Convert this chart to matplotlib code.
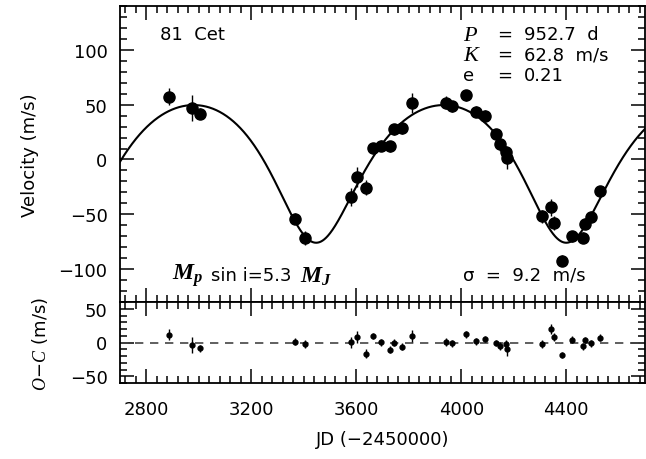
import numpy as np
import matplotlib
matplotlib.use("Agg")
import matplotlib.pyplot as plt
from matplotlib.ticker import MultipleLocator

plt.rcParams['font.family'] = ['DejaVu Sans']
plt.rcParams['mathtext.fontset'] = 'custom'
plt.rcParams['mathtext.rm'] = 'DejaVu Sans'
plt.rcParams['mathtext.it'] = 'Liberation Serif:italic'
plt.rcParams['mathtext.bf'] = 'Liberation Serif:italic:bold'

# ---- data ----
jd = [2887, 2976, 3004, 3365, 3405, 3580, 3601, 3637, 3662, 3694, 3728, 3745,
      3776, 3814, 3941, 3966, 4019, 4055, 4090, 4131, 4147, 4172, 4175, 4308,
      4341, 4352, 4382, 4420, 4463, 4470, 4496, 4530]
velocity = [57.3, 47.2, 41.8, -53.9, -71.6, -34.1, -15.8, -25.6, 10.3, 12.5, 12.2, 27.7,
            28.3, 51.2, 51.8, 48.7, 58.8, 43.6, 39.9, 23.1, 14.0, 6.4, 1.6, -51.8,
            -43.6, -57.9, -92.3, -70.1, -71.6, -58.8, -52.4, -29.0]
residual = [11.6, -3.2, -8.6, 1.2, -2.7, 0.3, 8.6, -16.6, 9.6, 0.3, -10.6, 0.0,
            -6.2, 10.1, 1.2, -1.3, 12.1, 1.7, 5.2, -0.7, -4.6, -2.6, -9.6, -2.2,
            20.0, 8.6, -18.5, 4.2, -5.6, 3.7, -1.2, 7.2]
error = [8, 12, 5, 5, 6, 8, 9, 7, 5, 5, 5, 5,
         5, 9, 6, 5, 5, 5, 5, 5, 6, 6, 10, 6,
         8, 6, 5, 5, 5, 5, 5, 5]

# orbital solution (P, K, e given in the chart)
P_orb = 952.7
K_orb = 62.8
e_orb = 0.21
omega_deg = 175.7
T_peri = 3440.0
gamma = 0.0

xticks = [2800, 3200, 3600, 4000, 4400]
yticks_top = [-100, -50, 0, 50, 100]
yticks_bot = [-50, 0, 50]

# ---- model curve ----
t = np.linspace(2700, 4700, 2000)
M = 2 * np.pi * (t - T_peri) / P_orb
E = M.copy()
for _ in range(50):
    E = E - (E - e_orb * np.sin(E) - M) / (1 - e_orb * np.cos(E))
nu = 2 * np.arctan2(np.sqrt(1 + e_orb) * np.sin(E / 2), np.sqrt(1 - e_orb) * np.cos(E / 2))
w = np.radians(omega_deg)
vmodel = K_orb * (np.cos(nu + w) + e_orb * np.cos(w)) + gamma

fig = plt.figure(figsize=(6.46, 4.6), dpi=100)
W, H = 646.0, 460.0
ax1 = fig.add_axes([120 / W, 1 - 303 / H, 525 / W, 296 / H])
ax2 = fig.add_axes([120 / W, 1 - 384 / H, 525 / W, 81 / H])

FS = 13

for ax in (ax1, ax2):
    ax.set_xlim(2700, 4700)
    ax.xaxis.set_major_locator(MultipleLocator(400))
    ax.xaxis.set_minor_locator(MultipleLocator(40))
    ax.yaxis.set_minor_locator(MultipleLocator(10))
    ax.tick_params(which='both', direction='in', top=True, right=True, width=1.1, labelsize=FS)
    ax.tick_params(which='major', length=10)
    ax.tick_params(which='minor', length=5)
    ax.tick_params(axis='y', pad=9)
    ax.tick_params(axis='x', pad=12)
    for s in ax.spines.values():
        s.set_linewidth(1.3)

ax1.plot(t, vmodel, color='black', lw=1.5)
ax1.errorbar(jd, velocity, yerr=error, fmt='o', color='black', ms=8,
             elinewidth=1.0, capsize=0)
ax1.set_ylim(-130, 140)
ax1.set_yticks(yticks_top)
ax1.set_xticks(xticks)
ax1.tick_params(axis='x', labelbottom=False)
ax1.set_ylabel('Velocity (m/s)', fontsize=FS, labelpad=14)

ax1.text(0.076, 0.905, '81  Cet', transform=ax1.transAxes, fontsize=FS, va='center', ha='left')
rows = [('$P$', '952.7  d', 35), ('$K$', '62.8  m/s', 55), ('e', '0.21', 76)]
for lab, val, yp in rows:
    ax1.text((463 - 120) / 525, (303 - yp) / 296, lab, transform=ax1.transAxes,
             fontsize=FS + 3 if lab.startswith('$') else FS, va='center', ha='left')
    ax1.text((497 - 120) / 525, (303 - yp) / 296, '=', transform=ax1.transAxes,
             fontsize=FS, va='center', ha='left')
    ax1.text((524 - 120) / 525, (303 - yp) / 296, val, transform=ax1.transAxes,
             fontsize=FS, va='center', ha='left')
ax1.text((172 - 120) / 525, (303 - 276) / 296, '$\\mathbf{M_p}$', transform=ax1.transAxes,
         fontsize=FS + 4, va='center', ha='left')
ax1.text((211 - 120) / 525, (303 - 276) / 296, 'sin i=5.3', transform=ax1.transAxes,
         fontsize=FS, va='center', ha='left')
ax1.text((300 - 120) / 525, (303 - 276) / 296, '$\\mathbf{M_J}$', transform=ax1.transAxes,
         fontsize=FS + 4, va='center', ha='left')
ax1.text((463 - 120) / 525, (303 - 276) / 296, 'σ  =  9.2  m/s', transform=ax1.transAxes,
         fontsize=FS, va='center', ha='left')

ax2.axhline(0, color='#444444', lw=1.2, ls=(0, (5, 4)))
ax2.errorbar(jd, residual, yerr=error, fmt='o', color='black', ms=3.5,
             elinewidth=1.0, capsize=0)
ax2.set_ylim(-60, 60)
ax2.set_yticks(yticks_bot)
ax2.set_xticks(xticks)
ax2.set_xlabel('JD (−2450000)', fontsize=FS, labelpad=9)
ax2.set_ylabel('$\\mathit{O\\!-\\!C}$ (m/s)', fontsize=FS, labelpad=14)

fig.align_ylabels([ax1, ax2])
fig.savefig('out.png', dpi=100)
